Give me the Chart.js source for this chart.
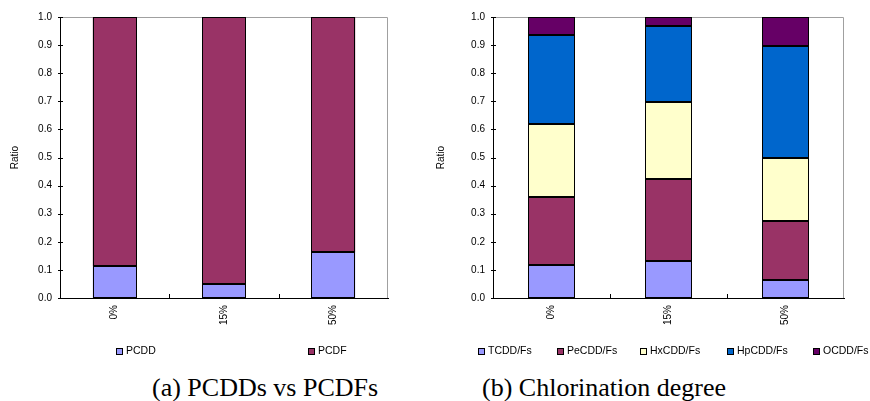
<!DOCTYPE html>
<html>
<head>
<meta charset="utf-8">
<script src="https://cdn.jsdelivr.net/npm/chart.js@4"></script>
<style>
  body { margin: 0; background: #fff; width: 870px; height: 401px; position: relative; overflow: hidden; }
  canvas { position: absolute; top: 0; }
  #chartA { left: 0; }
  #chartB { left: 430px; }
  .cap { position: absolute; top: 375px; font-family: "Liberation Serif", "Times New Roman", serif;
         font-size: 26px; line-height: 26px; color: #000; white-space: nowrap; }
</style>
</head>
<body>
<canvas id="chartA" width="430" height="365"></canvas>
<canvas id="chartB" width="440" height="365"></canvas>
<div class="cap" style="left:152px">(a) PCDDs vs PCDFs</div>
<div class="cap" style="left:482px">(b) Chlorination degree</div>
<script>
// categories (PVC ratio in feed)
const categories = ['0%', '15%', '50%'];

// (a) PCDDs vs PCDFs
const pcdd = [0.114, 0.051, 0.163];
const pcdf = [0.886, 0.949, 0.837];

// (b) chlorination degree
const tcdd  = [0.116, 0.130, 0.065];
const pecdd = [0.243, 0.295, 0.209];
const hxcdd = [0.259, 0.274, 0.225];
const hpcdd = [0.319, 0.269, 0.399];
const ocdd  = [0.063, 0.032, 0.102];

const FONT = '"Liberation Sans", Arial, sans-serif';

// Excel-style frame: grey top/right border and small tick marks crossing the axes
const excelFrame = {
  id: 'excelFrame',
  beforeDatasetsDraw(chart) {
    const { ctx, chartArea: a, scales: { x, y } } = chart;
    ctx.save();
    ctx.strokeStyle = '#a0a0a0';
    ctx.lineWidth = 1;
    ctx.beginPath();
    ctx.moveTo(a.left, a.top + 0.5);
    ctx.lineTo(a.right - 0.5, a.top + 0.5);
    ctx.lineTo(a.right - 0.5, a.bottom);
    ctx.stroke();

    ctx.strokeStyle = '#000';
    ctx.beginPath();
    y.ticks.forEach(t => {
      const py = Math.round(y.getPixelForValue(t.value)) + 0.5;
      ctx.moveTo(a.left - 2, py);
      ctx.lineTo(a.left + 3, py);
    });
    for (let i = 0; i < x.ticks.length - 1; i++) {
      const px = Math.round((x.getPixelForTick(i) + x.getPixelForTick(i + 1)) / 2) + 0.5;
      ctx.moveTo(px, a.bottom - 4);
      ctx.lineTo(px, a.bottom);
    }
    ctx.stroke();
    ctx.restore();
  },
  // crisp 1px black outline round every bar segment
  afterDatasetsDraw(chart) {
    const ctx = chart.ctx;
    ctx.save();
    ctx.strokeStyle = '#000';
    ctx.lineWidth = 1;
    chart.data.datasets.forEach((ds, i) => {
      chart.getDatasetMeta(i).data.forEach(el => {
        const l = Math.round(el.x - el.width / 2);
        const r = Math.round(el.x + el.width / 2);
        const t = Math.round(el.y);
        const b = Math.round(el.base);
        ctx.strokeRect(l + 0.5, t + 0.5, r - l - 1, b - t - 1);
      });
    });
    ctx.restore();
  }
};

// legend laid out like the Excel original (items spread along one row)
const boxLegend = {
  id: 'boxLegend',
  afterDraw(chart, args, opts) {
    const ctx = chart.ctx;
    ctx.save();
    ctx.font = '10.5px ' + FONT;
    ctx.textBaseline = 'middle';
    chart.data.datasets.forEach((ds, i) => {
      const x = opts.x[i], y = opts.y;
      ctx.fillStyle = ds.backgroundColor;
      ctx.fillRect(x, y - 3, 7, 7);
      ctx.strokeStyle = '#000';
      ctx.lineWidth = 1;
      ctx.strokeRect(x + 0.5, y - 2.5, 6, 6);
      ctx.fillStyle = '#000';
      ctx.fillText(ds.label, x + 10, y + 0.5);
    });
    ctx.restore();
  }
};

function makeOptions(axisWidth, titlePad, padRight, legendX) {
  return {
    responsive: false,
    animation: false,
    layout: { padding: { top: 17, right: padRight, left: 0, bottom: 0 } },
    plugins: {
      legend: { display: false },
      tooltip: { enabled: false },
      boxLegend: { x: legendX, y: 351 }
    },
    scales: {
      x: {
        stacked: true,
        offset: true,
        grid: { display: false, drawTicks: false },
        border: { display: true, color: '#000', width: 1 },
        ticks: { minRotation: 90, maxRotation: 90, padding: 7, color: '#000', font: { family: FONT, size: 10 } },
        afterFit: (s) => { s.height = 67; }
      },
      y: {
        stacked: true,
        min: 0,
        max: 1,
        grid: { display: false, drawTicks: false },
        border: { display: true, color: '#000', width: 1 },
        ticks: {
          stepSize: 0.1,
          padding: 8,
          color: '#000',
          font: { family: FONT, size: 10 },
          callback: (v) => Number(v).toFixed(1)
        },
        title: { display: true, text: 'Ratio', color: '#000', font: { family: FONT, size: 10 }, padding: { top: titlePad, bottom: 0 } },
        afterFit: (s) => { s.width = axisWidth; }
      }
    }
  };
}

const barStyle = { borderWidth: 0, barPercentage: 0.4, categoryPercentage: 1 };

new Chart(document.getElementById('chartA'), {
  type: 'bar',
  data: {
    labels: categories,
    datasets: [
      { label: 'PCDD', data: pcdd, backgroundColor: '#9999FF', ...barStyle },
      { label: 'PCDF', data: pcdf, backgroundColor: '#993366', ...barStyle }
    ]
  },
  options: makeOptions(60, 9, 42, [116, 308]),
  plugins: [excelFrame, boxLegend]
});

new Chart(document.getElementById('chartB'), {
  type: 'bar',
  data: {
    labels: categories,
    datasets: [
      { label: 'TCDD/Fs',  data: tcdd,  backgroundColor: '#9999FF', ...barStyle },
      { label: 'PeCDD/Fs', data: pecdd, backgroundColor: '#993366', ...barStyle },
      { label: 'HxCDD/Fs', data: hxcdd, backgroundColor: '#FFFFCC', ...barStyle },
      { label: 'HpCDD/Fs', data: hpcdd, backgroundColor: '#0066CC', ...barStyle },
      { label: 'OCDD/Fs',  data: ocdd,  backgroundColor: '#660066', ...barStyle }
    ]
  },
  options: makeOptions(63, 5, 26, [48, 127, 210, 297, 383]),
  plugins: [excelFrame, boxLegend]
});
</script>
</body>
</html>
